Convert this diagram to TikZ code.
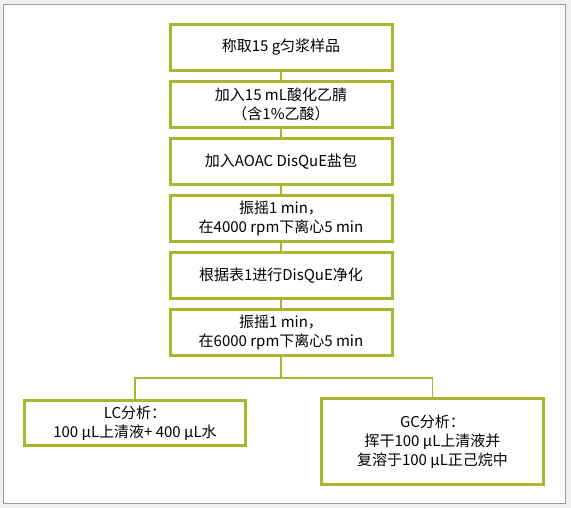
\documentclass[tikz,border=0pt]{standalone}
\usepackage{fontspec}
\setmainfont{Noto Sans CJK SC}
\usepackage{tikz}
\usetikzlibrary{positioning}
\definecolor{stepgreen}{RGB}{168,182,48}
\tikzstyle{stepbox} = [draw=stepgreen, line width=3pt, fill=white, minimum width=222pt, minimum height=46pt, inner sep=2pt, align=center, font=\fontsize{15}{19}\selectfont]
\tikzstyle{link} = [draw=stepgreen, line width=1.8pt]

\begin{document}
\begin{tikzpicture}[x=1pt,y=1pt]
    \useasboundingbox (0,0) rectangle (571,-508);
    \fill[black!6] (0,0) rectangle (571,-508);
    \draw[black!40, fill=white, line width=1pt] (3,-5) rectangle (565,-503);

    \node[stepbox] (s1) at (281,-47.5) {称取15 g匀浆样品};
    \node[stepbox] (s2) [below = 8pt of s1] {加入15 mL酸化乙腈\\（含1\%乙酸）};
    \node[stepbox] (s3) [below = 8pt of s2] {加入AOAC DisQuE盐包};
    \node[stepbox] (s4) [below = 8pt of s3] {振摇1 min，\\在4000 rpm下离心5 min};
    \node[stepbox] (s5) [below = 8pt of s4] {根据表1进行DisQuE净化};
    \node[stepbox] (s6) [below = 8pt of s5] {振摇1 min，\\在6000 rpm下离心5 min};

    \node[stepbox, minimum width=221pt, minimum height=45pt] (lc) at (135,-423) {LC分析：\\100 μL上清液+ 400 μL水};
    \node[stepbox, minimum height=86pt] (gc) at (432.5,-441.5) {GC分析：\\挥干100 μL上清液并\\复溶于100 μL正己烷中};

    \draw [link] (s1) -- (s2);
    \draw [link] (s2) -- (s3);
    \draw [link] (s3) -- (s4);
    \draw [link] (s4) -- (s5);
    \draw [link] (s5) -- (s6);
    \draw [link] (s6.south) -- ++(0,-21) coordinate (split);
    \draw [link] (split) -| (lc.north);
    \draw [link] (split) -| (gc.north);
\end{tikzpicture}
\end{document}
